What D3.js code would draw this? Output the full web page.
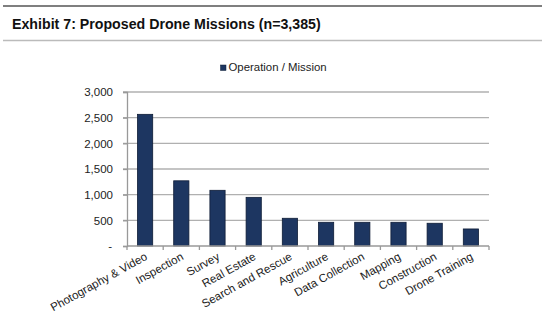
<!DOCTYPE html>
<html><head><meta charset="utf-8">
<script src="https://cdn.jsdelivr.net/npm/d3@7/dist/d3.min.js"></script>
<style>body{margin:0;background:#fff}svg{display:block}</style>
</head><body>
<svg id="c" width="558" height="323"></svg>
<script>
const categories = ["Photography & Video","Inspection","Survey","Real Estate","Search and Rescue","Agriculture","Data Collection","Mapping","Construction","Drone Training"];
const values = [2565, 1270, 1085, 948, 540, 462, 462, 462, 443, 332];
const yTicks = [0, 500, 1000, 1500, 2000, 2500, 3000];
const seriesName = "Operation / Mission";
const title = "Exhibit 7: Proposed Drone Missions (n=3,385)";

const svg = d3.select("#c");
const font = "'Liberation Sans', Arial, sans-serif";
const L = 127, R = 489, T = 92, B = 246;

// header rules
svg.append("line").attr("x1",3).attr("x2",542).attr("y1",6).attr("y2",6).attr("stroke","#555").attr("stroke-width",1.5);
svg.append("line").attr("x1",3).attr("x2",542).attr("y1",40.5).attr("y2",40.5).attr("stroke","#bbb").attr("stroke-width",1.5);
svg.append("text").attr("x",12).attr("y",29).attr("font-family",font).attr("font-weight","bold").attr("font-size",14.2).attr("fill","#111").text(title);

const x = d3.scaleBand().domain(categories).range([L,R]).paddingInner(0.58).paddingOuter(0.29);
const y = d3.scaleLinear().domain([0,3000]).range([B,T]);

// gridlines
svg.append("g").selectAll("line").data(yTicks.filter(d=>d>0)).join("line")
  .attr("x1",L-4).attr("x2",R).attr("y1",d=>y(d)).attr("y2",d=>y(d))
  .attr("stroke","#b0b0b0").attr("stroke-width",1.3);

// y axis
const yAxis = d3.axisLeft(y).tickValues(yTicks).tickSize(4).tickPadding(10)
  .tickFormat(d=> d===0 ? "-" : d3.format(",")(d));
const gy = svg.append("g").attr("transform",`translate(${L},0)`).call(yAxis);
gy.select(".domain").attr("stroke","#999").attr("stroke-width",1.3);
gy.selectAll(".tick line").attr("stroke","#999").attr("stroke-width",1.3);
gy.selectAll("text").attr("font-family",font).attr("font-size",11.5).attr("fill","#222");
gy.selectAll(".tick").filter(d=>d===0).select("text").attr("dx",-1);

// bars
svg.append("g").selectAll("rect").data(categories).join("rect")
  .attr("x",d=>x(d)).attr("width",x.bandwidth())
  .attr("y",(d,i)=>y(values[i])).attr("height",(d,i)=>B-y(values[i]))
  .attr("fill","#1d3661").attr("stroke","#0e1c36").attr("stroke-width",0.8);

// x axis
const step = x.step();
const gx = svg.append("g");
gx.append("line").attr("x1",L).attr("x2",R).attr("y1",B).attr("y2",B).attr("stroke","#999").attr("stroke-width",1.3);
gx.selectAll("line.t").data(d3.range(categories.length+1)).join("line").attr("class","t")
  .attr("x1",i=>L+i*step).attr("x2",i=>L+i*step).attr("y1",B).attr("y2",B+4)
  .attr("stroke","#999").attr("stroke-width",1.3);
gx.selectAll("text").data(categories).join("text")
  .attr("transform",d=>`translate(${x(d)+x.bandwidth()/2+3},${B+13}) rotate(-29)`)
  .attr("text-anchor","end").attr("font-family",font).attr("font-size",11.5).attr("fill","#222")
  .text(d=>d);

// legend
svg.append("rect").attr("x",220.5).attr("y",65).attr("width",5.5).attr("height",5.5).attr("fill","#1d3661").attr("stroke","#0e1c36").attr("stroke-width",0.5);
svg.append("text").attr("x",228.5).attr("y",71).attr("font-family",font).attr("font-size",11.4).attr("fill","#222").text(seriesName);
</script>
</body></html>
